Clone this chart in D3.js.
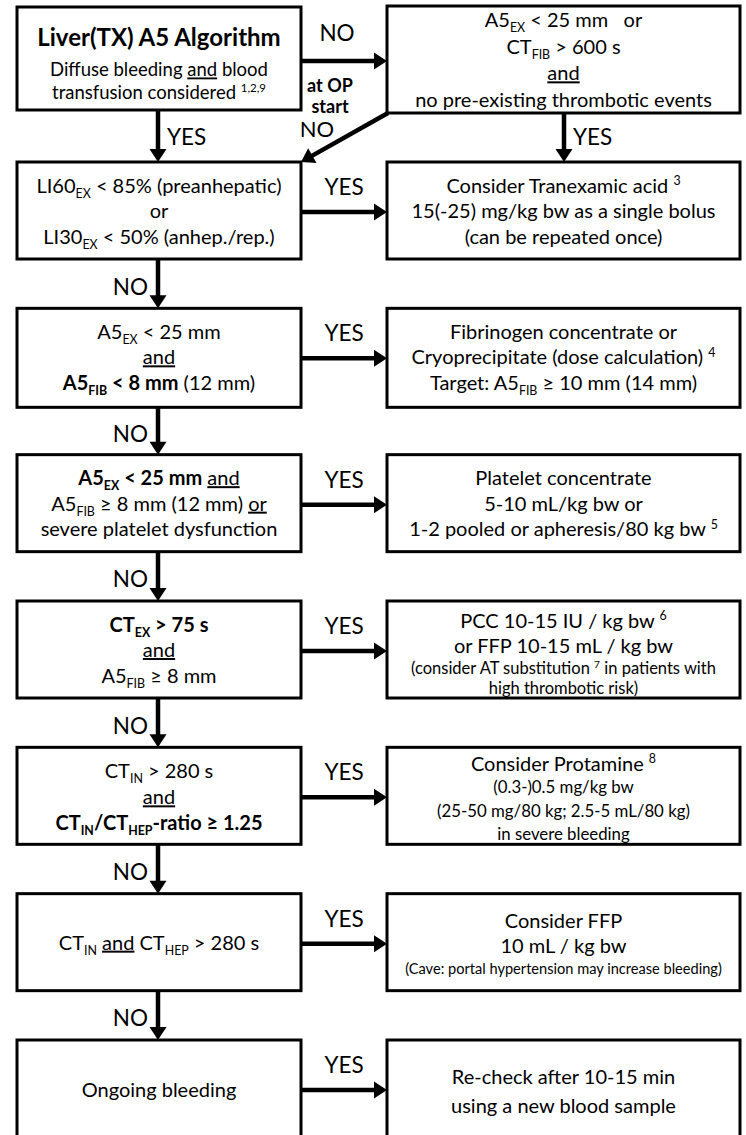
<!DOCTYPE html>
<html><head><meta charset="utf-8">
<script src="https://cdn.jsdelivr.net/npm/d3@7"></script>
<style>body{margin:0;background:#fff}</style>
</head><body><svg id="c" width="746" height="1135"></svg>
<script>
// ---- DATA (text content) ----
// markup: **bold**, __underline__, _{sub}, ^{sup}
// line prefixes: "#" title, "~" small, "=" extra small, "-" medium
const leftTexts = [
  ["#Liver(TX) A5 Algorithm", "-Diffuse bleeding __and__ blood", "-transfusion considered ^{1,2,9}"],
  ["LI60_{EX} < 85% (preanhepatic)", "or", "LI30_{EX} < 50% (anhep./rep.)"],
  ["A5_{EX} < 25 mm", "__and__", "**A5_{FIB} < 8 mm** (12 mm)"],
  ["**A5_{EX} < 25 mm** __and__", "A5_{FIB} ≥ 8 mm (12 mm) __or__", "severe platelet dysfunction"],
  ["**CT_{EX} > 75 s**", "__and__", "A5_{FIB} ≥ 8 mm"],
  ["CT_{IN} > 280 s", "__and__", "**CT_{IN}/CT_{HEP}-ratio ≥ 1.25**"],
  ["CT_{IN} __and__ CT_{HEP} > 280 s"],
  ["Ongoing bleeding"]
];
const rightTexts = [
  ["A5_{EX} < 25 mm   or", "CT_{FIB} > 600 s", "__and__", "no pre-existing thrombotic events"],
  ["Consider Tranexamic acid ^{3}", "15(-25) mg/kg bw as a single bolus", "(can be repeated once)"],
  ["Fibrinogen concentrate or", "Cryoprecipitate (dose calculation) ^{4}", "Target: A5_{FIB} ≥ 10 mm (14 mm)"],
  ["Platelet concentrate", "5-10 mL/kg bw or", "1-2 pooled or apheresis/80 kg bw ^{5}"],
  ["PCC 10-15 IU / kg bw ^{6}", "or FFP 10-15 mL / kg bw", "~(consider AT substitution ^{7} in patients with", "~high thrombotic risk)"],
  ["Consider Protamine ^{8}", "-(0.3-)0.5 mg/kg bw", "-(25-50 mg/80 kg; 2.5-5 mL/80 kg)", "-in severe bleeding"],
  ["Consider FFP", "10 mL / kg bw", "=(Cave: portal hypertension may increase bleeding)"],
  ["Re-check after 10-15 min", "using a new blood sample"]
];
const opStartLabels = ["at OP", "start"];
// edges: [fromRow, fromCol, toRow, toCol, label]
const edges = [
  [0, "L", 0, "R", "NO"],
  [0, "R", 1, "L", "NO"],
  [0, "L", 1, "L", "YES"],
  [0, "R", 1, "R", "YES"],
  [1, "L", 1, "R", "YES"], [1, "L", 2, "L", "NO"],
  [2, "L", 2, "R", "YES"], [2, "L", 3, "L", "NO"],
  [3, "L", 3, "R", "YES"], [3, "L", 4, "L", "NO"],
  [4, "L", 4, "R", "YES"], [4, "L", 5, "L", "NO"],
  [5, "L", 5, "R", "YES"], [5, "L", 6, "L", "NO"],
  [6, "L", 6, "R", "YES"], [6, "L", 7, "L", "NO"],
  [7, "L", 7, "R", "YES"]
];

// ---- LAYOUT ----
const FONT = "Lato, 'Open Sans', sans-serif";
const W = 746, H = 1135;
const svg = d3.select("#c");
const xCol = d3.scaleOrdinal().domain(["L", "R"]).range([[17, 301], [387, 740]]);
const yRow = d3.scaleLinear().domain([1, 7]).range([162, 1040]);
const boxH = 97;
function boxOf(r, c) {
  const [x0, x1] = xCol(c);
  if (r === 0) return c === "L" ? {x0, x1, y0: 7, y1: 110} : {x0, x1, y0: 6, y1: 113};
  const y0 = yRow(r);
  return {x0, x1, y0, y1: r === 7 ? H + 30 : y0 + (r === 2 ? 99 : boxH)};
}
const textStyle = {
  "0L": {c: 54, lh: 23, th: 41}, "0R": {c: 54, lh: 26.7},
  "4R": {c: 52, lh: 25}, "5L": {c: 50, lh: 26}, "5R": {c: 52, lh: 23.5},
  "6R": {c: 50, lh: 25}, "7L": {c: 50, lh: 25}, "7R": {c: 51.5, lh: 29}
};
const sizes = {N: 20, T: 24, S: 16.5, X: 14.6, M: 16.8, D: 18.5};
const prefixes = {"#": "T", "~": "S", "=": "X", "-": "M"};

function parse(str) {
  const segs = []; let b = false, u = false, mode = null, buf = "";
  const push = () => { if (buf) segs.push({t: buf, b, u, mode}); buf = ""; };
  for (let i = 0; i < str.length; i++) {
    const ch = str[i], n = str[i + 1];
    if (ch === "*" && n === "*") { push(); b = !b; i++; continue; }
    if (ch === "_" && n === "_") { push(); u = !u; i++; continue; }
    if (ch === "_" && n === "{") { push(); mode = "sub"; i++; continue; }
    if (ch === "^" && n === "{") { push(); mode = "sup"; i++; continue; }
    if (ch === "}" && mode) { push(); mode = null; continue; }
    buf += ch;
  }
  push();
  return segs;
}
function lineClass(str, boxKey) {
  const p = prefixes[str[0]];
  if (!p) return ["N", str];
  if (p === "M" && boxKey === "0L") return ["D", str.slice(1)];
  return [p, str.slice(1)];
}

function drawLine(g, cls, str, cx, cy) {
  const fs = sizes[cls];
  const t = g.append("text").attr("x", cx).attr("y", cy + fs * 0.35)
    .attr("text-anchor", "middle").attr("font-family", FONT)
    .attr("font-size", fs).attr("fill", "#000")
    .style("white-space", "pre");
  let off = 0;
  parse(str).forEach(s => {
    const target = s.mode === "sub" ? fs * 0.25 : s.mode === "sup" ? -fs * 0.38 : 0;
    const ts = t.append("tspan").text(s.t)
      .attr("font-weight", (s.b || cls === "T") ? "bold" : "normal")
      .attr("font-size", s.mode ? fs * 0.62 : fs);
    if (target !== off) ts.attr("dy", target - off);
    off = target;
    if (s.u) ts.attr("text-decoration", "underline");
  });
}

function drawBox(r, c, lines) {
  const b = boxOf(r, c), key = r + c;
  const g = svg.append("g");
  g.append("rect").attr("x", b.x0).attr("y", b.y0)
    .attr("width", b.x1 - b.x0).attr("height", b.y1 - b.y0)
    .attr("fill", "#fff").attr("stroke", "#000").attr("stroke-width", 3);
  const st = textStyle[key] || {c: 49, lh: 25.5};
  const parsed = lines.map(l => lineClass(l, key));
  const hs = parsed.map(([cls]) => cls === "T" ? (st.th || 32) : (cls === "S" || cls === "X") ? 20 : st.lh);
  const total = d3.sum(hs);
  let y = b.y0 + st.c - total / 2;
  const cx = (b.x0 + b.x1) / 2;
  parsed.forEach(([cls, str], i) => {
    drawLine(g, cls, str, cx, y + hs[i] / 2);
    y += hs[i];
  });
}

leftTexts.forEach((lines, r) => drawBox(r, "L", lines));
rightTexts.forEach((lines, r) => drawBox(r, "R", lines));

// ---- ARROWS ----
function arrow(x1, y1, x2, y2) {
  const len = 13, hw = 8.5;
  const dx = x2 - x1, dy = y2 - y1, d = Math.hypot(dx, dy);
  const ux = dx / d, uy = dy / d;
  const bx = x2 - ux * len, by = y2 - uy * len;
  svg.append("line").attr("x1", x1).attr("y1", y1).attr("x2", bx + ux).attr("y2", by + uy)
    .attr("stroke", "#000").attr("stroke-width", 4.5);
  svg.append("path").attr("d", d3.line()([[x2, y2], [bx - uy * hw, by + ux * hw], [bx + uy * hw, by - ux * hw]]) + "Z")
    .attr("fill", "#000");
}
function label(txt, x, y, anchor, opts = {}) {
  const fs = opts.fs || 22.5;
  svg.append("text").attr("x", x).attr("y", y + fs * 0.35)
    .attr("text-anchor", anchor).attr("font-family", FONT)
    .attr("font-size", fs).attr("font-weight", opts.bold ? "bold" : "normal")
    .attr("fill", "#000").text(txt);
}

edges.forEach(([r1, c1, r2, c2, lab]) => {
  const a = boxOf(r1, c1), b = boxOf(r2, c2);
  if (r1 === r2) {
    const y = r1 === 0 ? 61 : a.y0 + 50;
    arrow(a.x1, y, b.x0, y);
    if (r1 === 0) {
      label(lab, 337, 33, "middle");
      opStartLabels.forEach((t, i) => label(t, 330, 86 + i * 21, "middle", {fs: 18, bold: true}));
    } else {
      label(lab, (a.x1 + b.x0) / 2, a.y0 + 25, "middle");
    }
  } else if (c1 === c2) {
    const x = c1 === "L" ? 158 : 564;
    arrow(x, a.y1, x, b.y0);
    if (r1 === 0) label(lab, x + 9, 137, "start");
    else label(lab, x - 10, (a.y1 + b.y0) / 2 + 3, "end");
  } else {
    arrow(a.x0 + 1, a.y1, b.x1, b.y0);
    label(lab, 317, 129, "middle", {fs: 22});
  }
});
</script></body></html>
